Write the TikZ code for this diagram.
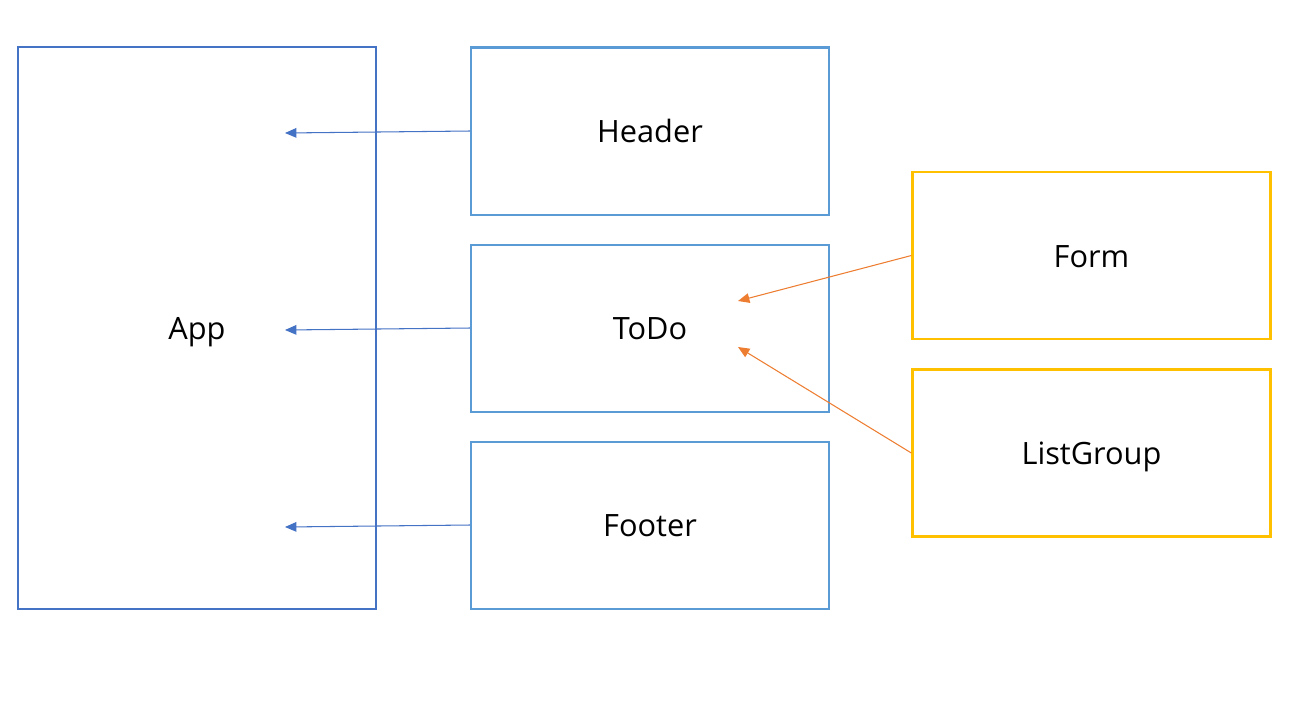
\documentclass[tikz,border=0pt]{standalone}
\usepackage{fontspec}
\setmainfont{Open Sans}
\usetikzlibrary{arrows.meta}
\definecolor{appblue}{HTML}{4472C4}
\definecolor{boxblue}{HTML}{5B9BD5}
\definecolor{boxgold}{HTML}{FFC000}
\definecolor{arrorange}{HTML}{ED7D31}
\begin{document}
\begin{tikzpicture}[x=0.02cm,y=-0.02cm,
    box/.style = {draw=boxblue,line width=1.15pt,minimum width=358*0.02cm,minimum height=167*0.02cm,text height=13.6pt,text depth=0pt,font=\fontsize{17.5}{20}\selectfont},
    goldbox/.style = {box,draw=boxgold,line width=1.3pt},
    arrow/.style = {line width=0.6pt,-{Triangle[length=6.5pt,width=5.5pt]}}]
                    \useasboundingbox (0,0) rectangle (1313,725);

                    \node [box,draw=appblue,line width=1.2pt,minimum height=562*0.02cm] (app) at (197,328) {App};

                    \node [box] (header) at (650,131) {Header};
                    \node [box] (todo) at (650,328) {ToDo};
                    \node [box] (footer) at (650,525) {Footer};

                    \node [goldbox] (form) at (1091.5,255.5) {Form};
                    \node [goldbox] (listgroup) at (1091.5,453) {ListGroup};

                    \coordinate (inheader) at (285,133);
                    \coordinate (intodo) at (285,330);
                    \coordinate (infooter) at (285,527);
                    \coordinate (inform) at (738,301);
                    \coordinate (inlist) at (738,347);

                    \draw[arrow,appblue] (header.west) -- (inheader);
                    \draw[arrow,appblue] (todo.west) -- (intodo);
                    \draw[arrow,appblue] (footer.west) -- (infooter);
                    \draw[arrow,arrorange] (form.west) -- (inform);
                    \draw[arrow,arrorange] (listgroup.west) -- (inlist);
                \end{tikzpicture}
\end{document}
